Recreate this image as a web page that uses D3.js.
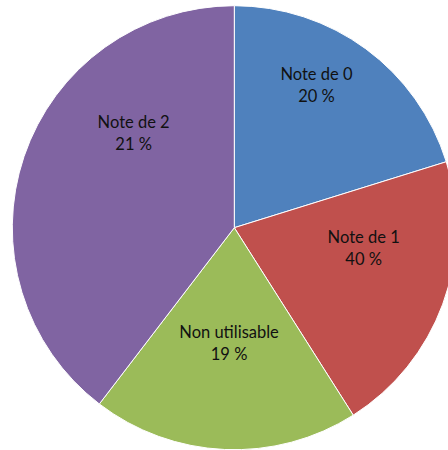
<!DOCTYPE html>
<html>
<head>
<meta charset="utf-8">
<script src="https://cdn.jsdelivr.net/npm/d3@7"></script>
<style>
  body { margin: 0; background: #fff; }
  svg { display: block; }
</style>
</head>
<body>
<div id="chart"></div>
<script>
// Categories, slice shares and the percentages printed in the labels
const categories = ["Note de 0", "Note de 1", "Non utilisable", "Note de 2"];
const values = [20.2, 20.8, 19.4, 39.6];
const labelPercents = ["20 %", "40 %", "19 %", "21 %"];
const colors = ["#4f81bd", "#c0504d", "#9bbb59", "#8064a2"];

const width = 448, height = 450;
const cx = 234.3, cy = 227.7, radius = 222;

// Excel "best fit" label spots: angle (deg, clockwise from 12 o'clock), fraction of radius
const labelSpots = [[30, 0.74], [99, 0.59], [182.6, 0.52], [313, 0.62]];

const svg = d3.select("#chart").append("svg")
  .attr("width", width)
  .attr("height", height);

const g = svg.append("g").attr("transform", `translate(${cx},${cy})`);

const pie = d3.pie().sort(null).value(d => d);
const arc = d3.arc().innerRadius(0).outerRadius(radius);
const arcs = pie(values);

g.selectAll("path.slice")
  .data(arcs)
  .join("path")
  .attr("class", "slice")
  .attr("d", arc)
  .attr("fill", (d, i) => colors[i])
  .attr("stroke", "#fff")
  .attr("stroke-width", 1);

const labels = g.selectAll("text.lbl")
  .data(arcs)
  .join("text")
  .attr("class", "lbl")
  .attr("transform", (d, i) => {
    const [a, f] = labelSpots[i];
    const [x, y] = d3.pointRadial(a * Math.PI / 180, f * radius);
    return `translate(${x},${y})`;
  })
  .attr("text-anchor", "middle")
  .style("font-family", "Lato, 'Open Sans', sans-serif")
  .style("font-size", "16.5px")
  .attr("fill", "#111");

labels.append("tspan")
  .attr("x", 0)
  .attr("y", -5.5)
  .text((d, i) => categories[i]);

labels.append("tspan")
  .attr("x", 0)
  .attr("y", 16.5)
  .text((d, i) => labelPercents[i]);
</script>
</body>
</html>
